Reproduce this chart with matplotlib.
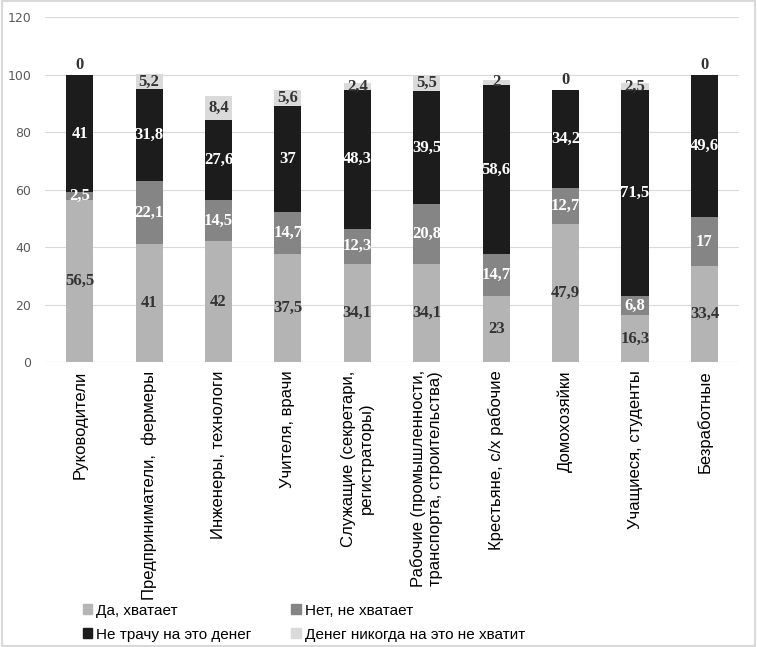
import matplotlib
matplotlib.use('Agg')

import matplotlib.pyplot as plt
from matplotlib.patches import Rectangle, Patch
import numpy as np

categories = [
    'Руководители',
    'Предприниматели,  фермеры',
    'Инженеры, технологи',
    'Учителя, врачи',
    'Служащие (секретари,\nрегистраторы)',
    'Рабочие (промышленности,\nтранспорта, строительства)',
    'Крестьяне, с/х рабочие',
    'Домохозяйки',
    'Учащиеся, студенты',
    'Безработные',
]

series_names = ['Да, хватает', 'Нет, не хватает', 'Не трачу на это денег',
                'Денег никогда на это не хватит']

da = [56.5, 41, 42, 37.5, 34.1, 34.1, 23, 47.9, 16.3, 33.4]
net = [2.5, 22.1, 14.5, 14.7, 12.3, 20.8, 14.7, 12.7, 6.8, 17]
ne_trachu = [41, 31.8, 27.6, 37, 48.3, 39.5, 58.6, 34.2, 71.5, 49.6]
nikogda = [0, 5.2, 8.4, 5.6, 2.4, 5.5, 2, 0, 2.5, 0]

colors = ['#b4b4b4', '#858585', '#1c1c1c', '#dadada']
label_colors = ['#333333', 'white', 'white', '#333333']

fig = plt.figure(figsize=(7.57, 6.47), dpi=100)
ax = fig.add_axes([0.0594, 0.4405, 0.917, 0.533])

x = np.arange(len(categories))
bottom = np.zeros(len(categories))
for vals, col, lcol in zip([da, net, ne_trachu, nikogda], colors, label_colors):
    vals = np.array(vals, dtype=float)
    ax.bar(x, vals, 0.39, bottom=bottom, color=col, zorder=3)
    for i, v in enumerate(vals):
        s = ('%g' % v).replace('.', ',')
        if v == 0:
            y = bottom[i] + 3.5
        else:
            y = bottom[i] + v / 2
        ax.text(x[i], y, s, ha='center', va='center', color=lcol,
                fontsize=12, fontweight='bold', family='Liberation Serif',
                zorder=4)
    bottom += vals

ax.set_xlim(-0.5, len(categories) - 0.5)
ax.set_ylim(0, 120)
ax.set_yticks(range(0, 121, 20))
ax.yaxis.grid(True, color='#d9d9d9', linewidth=0.8, zorder=0)
for sp in ax.spines.values():
    sp.set_visible(False)
ax.axhline(0, color='#d9d9d9', linewidth=0.8, zorder=2)
ax.tick_params(axis='y', length=0, labelsize=9, labelcolor='#595959', pad=10)
ax.tick_params(axis='x', length=0, pad=6)
ax.set_xticks(x)
ax.set_xticklabels(categories, rotation=90, fontsize=12,
                   family='Liberation Sans', va='top', ha='center')

# legend: row 1 = Да / Нет, row 2 = Не трачу / Денег никогда
order = [0, 2, 1, 3]
handles = [Patch(color=colors[k]) for k in order]
labels = [series_names[k] for k in order]
fig.legend(handles, labels, loc='lower left', bbox_to_anchor=(0.091, -0.013),
           ncol=2, frameon=False, handlelength=0.6, handleheight=0.6,
           columnspacing=2.6, handletextpad=0.3, labelspacing=0.65,
           prop={'family': ['Liberation Sans Narrow', 'Liberation Sans'], 'size': 11})

fig.patches.append(Rectangle((0.002, 0.002), 0.996, 0.996, transform=fig.transFigure,
                             fill=False, edgecolor='#d9d9d9', linewidth=1.5))

fig.savefig('out.png', dpi=100)
